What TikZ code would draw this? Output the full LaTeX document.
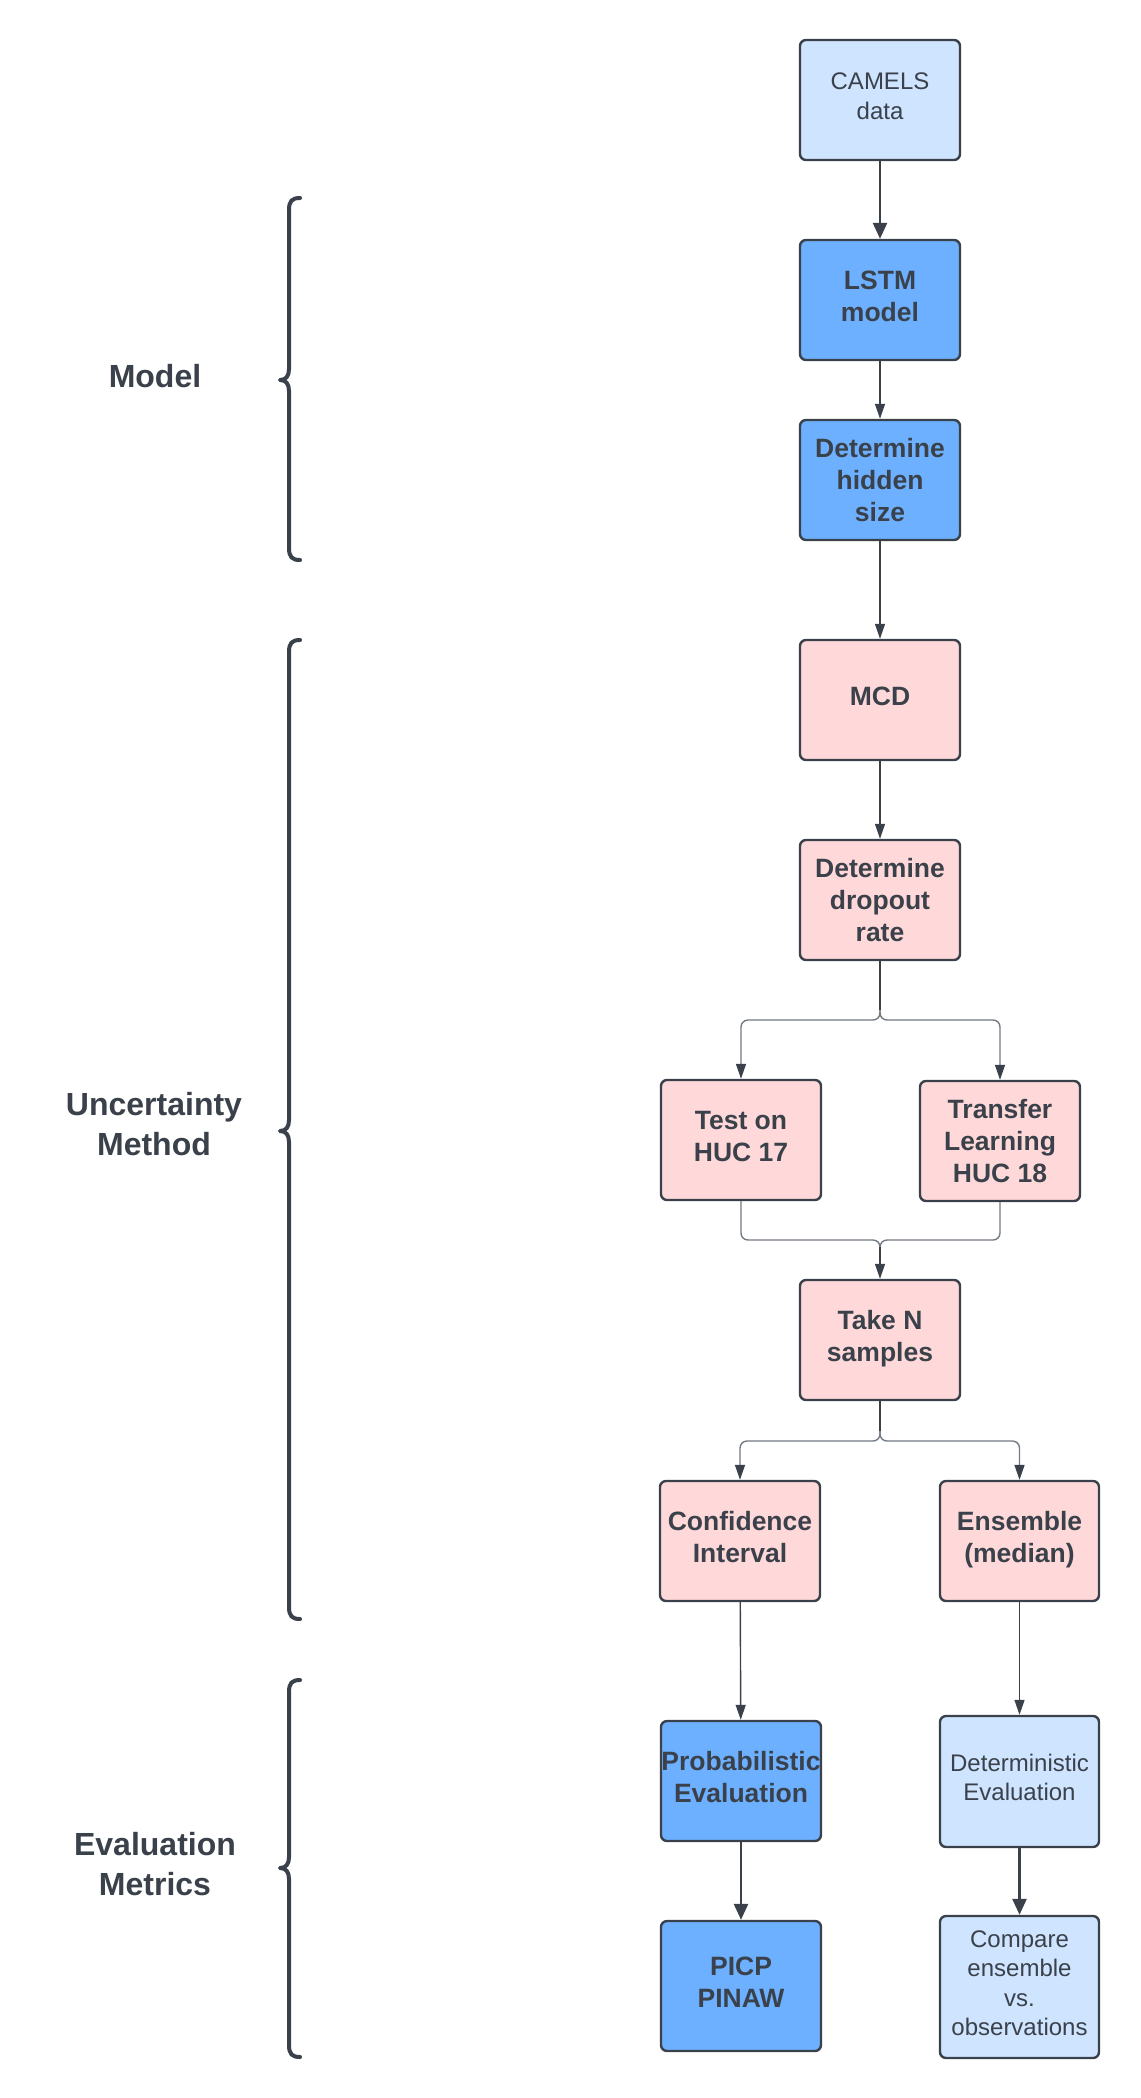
\documentclass[tikz,border=0pt]{standalone}
\usepackage{fontspec}
\setmainfont{Liberation Sans}
\usetikzlibrary{arrows.meta}

\definecolor{ink}{HTML}{3A414A}
\definecolor{wire}{HTML}{737A83}
\definecolor{paleblue}{HTML}{CFE4FF}
\definecolor{midblue}{HTML}{6CB0FF}
\definecolor{rose}{HTML}{FFD9D9}

% extra depth below the last line lifts the text block a little inside its box
\newcommand{\liftdepth}{8pt}
\newcommand{\liftstrut}{\rule[-\liftdepth]{0pt}{0pt}}

\tikzset{
  box/.style={draw=ink, line width=2.4pt, rounded corners=6pt, align=center,
    text=ink, inner sep=0pt, minimum width=160pt, minimum height=120pt,
    execute at end node=\liftstrut},
  nolift/.style={execute at begin node={\def\liftdepth{0pt}}},
  plain/.style={box, font=\fontsize{24}{29.5}\selectfont},
  heavy/.style={box, font=\bfseries\fontsize{26.5}{32}\selectfont},
  inputbox/.style={plain, fill=paleblue},
  modelbox/.style={heavy, fill=midblue},
  uncbox/.style={heavy, fill=rose},
  arr/.style={draw=ink, line width=1.4pt, -{Triangle[length=15pt,width=10pt]}},
  thickarr/.style={draw=ink, line width=2.6pt, -{Triangle[length=16pt,width=14pt]}},
  branch/.style={draw=wire, line width=1.4pt, rounded corners=7pt},
  tipdark/.style={draw=wire, line width=1.4pt, rounded corners=7pt,
    -{Triangle[length=15pt,width=10pt,color=ink]}},
  brace/.style={draw=ink, line width=4pt, line cap=round, line join=round},
  group/.style={text=ink, align=center, font=\bfseries\fontsize{32}{40}\selectfont}
}

\begin{document}
\begin{tikzpicture}[x=1pt, y=-1pt]
  \useasboundingbox[fill=white] (0,0) rectangle (1140,2098);

  % main column
  \node[inputbox] (camels) at (880,100) {CAMELS\\data};
  \node[modelbox] (lstm) at (880,300) {LSTM\\model};
  \node[modelbox, nolift] (hidden) at (880,480) {Determine\\hidden\\size};
  \node[uncbox] (mcd) at (880,700) {MCD};
  \node[uncbox, nolift] (dropout) at (880,900) {Determine\\dropout\\rate};
  \node[uncbox] (test) at (741,1140) {Test on\\HUC 17};
  \node[uncbox, nolift] (transfer) at (1000,1141) {Transfer\\Learning\\HUC 18};
  \node[uncbox] (samples) at (880,1340) {Take N\\samples};
  \node[uncbox] (conf) at (740,1541) {Confidence\\Interval};
  \node[uncbox, minimum width=159pt] (ens) at (1019.5,1541) {Ensemble\\(median)};

  % evaluation
  \node[modelbox] (prob) at (741,1781) {Probabilistic\\Evaluation};
  \node[inputbox, minimum width=159pt, minimum height=131pt] (det) at (1019.5,1781.5) {Deterministic\\Evaluation};
  \node[modelbox, minimum height=130pt] (picp) at (741,1986) {PICP\\PINAW};
  \node[inputbox, minimum width=159pt, minimum height=142pt] (cmp) at (1019.5,1987) {Compare\\ensemble\\vs.\\observations};

  % straight links
  \draw[thickarr] (camels) -- (lstm);
  \draw[arr] (lstm) -- (hidden);
  \draw[arr] (hidden) -- (mcd);
  \draw[arr] (mcd) -- (dropout);
  \draw[arr] (conf) -- (prob);
  \draw[arr] (ens) -- (det);
  \draw[thickarr] (prob) -- (picp);
  \draw[thickarr] (det) -- (cmp);

  % first fork
  \coordinate (forkA) at (880,1020);
  \draw[tipdark] (dropout.south) -- (forkA) -| (test.north);
  \draw[tipdark] (dropout.south) -- (forkA) -| (transfer.north);
  \draw[draw=ink, line width=1.4pt] (dropout.south) -- (880,1010);

  % join
  \coordinate (joinA) at (880,1240);
  \coordinate (joinB) at (880,1250);
  \draw[branch] (test.south) |- (joinA) -- (joinB);
  \draw[branch] (transfer.south) |- (joinA) -- (joinB);
  \draw[arr] (joinB) -- (samples.north);
  \draw[draw=ink, line width=1.4pt] (880,1247) -- (joinB);

  % second fork
  \coordinate (forkB) at (880,1441);
  \draw[tipdark] (samples.south) -- (forkB) -| (conf.north);
  \draw[tipdark] (samples.south) -- (forkB) -| (ens.north);
  \draw[draw=ink, line width=1.4pt] (samples.south) -- (880,1431);

  % group braces
  \draw[brace] (300,198) .. controls (292,198) and (289,201) .. (289,210)
    -- (289,369) .. controls (289,376) and (286,380) .. (280,380)
    .. controls (286,380) and (289,384) .. (289,391)
    -- (289,548) .. controls (289,557) and (292,560) .. (300,560);
  \draw[brace] (300,640) .. controls (292,640) and (289,643) .. (289,652)
    -- (289,1120) .. controls (289,1127) and (286,1131) .. (280,1131)
    .. controls (286,1131) and (289,1135) .. (289,1142)
    -- (289,1607) .. controls (289,1616) and (292,1619) .. (300,1619);
  \draw[brace] (300,1680) .. controls (292,1680) and (289,1683) .. (289,1692)
    -- (289,1857) .. controls (289,1864) and (286,1868) .. (280,1868)
    .. controls (286,1868) and (289,1872) .. (289,1879)
    -- (289,2045) .. controls (289,2054) and (292,2057) .. (300,2057);

  \node[group] (gmodel) at (155,376) {Model};
  \node[group] (gunc) at (154,1124) {Uncertainty\\Method};
  \node[group] (geval) at (155,1864) {Evaluation\\Metrics};
\end{tikzpicture}
\end{document}
